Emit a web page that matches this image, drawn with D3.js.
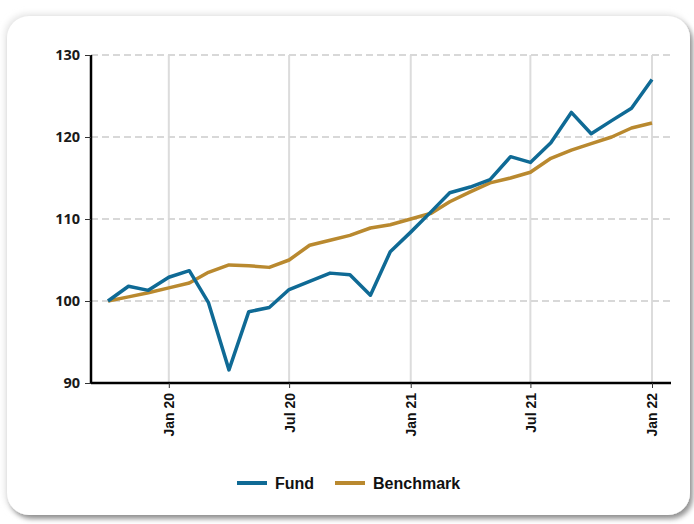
<!DOCTYPE html>
<html>
<head>
<meta charset="utf-8">
<script src="https://cdn.jsdelivr.net/npm/d3@7"></script>
<style>
  html, body { margin: 0; padding: 0; background: #fff; }
  #chart { width: 694px; height: 524px; }
  text { font-family: "Liberation Sans", Arial, sans-serif; }
</style>
</head>
<body>
<div id="chart"></div>
<script>
// monthly points, Oct 2019 - Jan 2022
const months = ['2019-10','2019-11','2019-12','2020-01','2020-02','2020-03','2020-04','2020-05','2020-06','2020-07',
  '2020-08','2020-09','2020-10','2020-11','2020-12','2021-01','2021-02','2021-03','2021-04','2021-05',
  '2021-06','2021-07','2021-08','2021-09','2021-10','2021-11','2021-12','2022-01'];
const fund = [100, 101.8, 101.3, 102.9, 103.7, 99.8, 91.6, 98.7, 99.2, 101.4,
  102.4, 103.4, 103.2, 100.7, 106.0, 108.4, 110.9, 113.2, 113.9, 114.8,
  117.6, 116.9, 119.3, 123.0, 120.4, 122.0, 123.5, 127.0];
const benchmark = [100, 100.5, 101.0, 101.6, 102.2, 103.5, 104.4, 104.3, 104.1, 105.0,
  106.8, 107.4, 108.0, 108.9, 109.3, 110.0, 110.7, 112.1, 113.3, 114.4,
  115.0, 115.7, 117.4, 118.4, 119.2, 120.0, 121.1, 121.7];
const yTicks = [90, 100, 110, 120, 130];
const xTicks = ['2020-01','2020-07','2021-01','2021-07','2022-01'];
const seriesNames = ['Fund', 'Benchmark'];

const COLOR_FUND = '#0f6a95', COLOR_BENCH = '#b9892f';

const parse = d3.timeParse('%Y-%m');
const fmt = d3.timeFormat('%b %y');

let W = 694, H = 524;
let margin = {top: 55, right: 23, bottom: 141, left: 91},
    width = 671 - margin.left,
    height = 383 - margin.top;

let root = d3.select('#chart').append('svg')
    .attr('width', W).attr('height', H);

// tarjeta con sombra
let defs = root.append('defs');
let f = defs.append('filter').attr('id', 'sh')
    .attr('x', '-5%').attr('y', '-5%').attr('width', '112%').attr('height', '115%');
f.append('feDropShadow').attr('dx', 3).attr('dy', 4).attr('stdDeviation', 2.5)
    .attr('flood-color', '#000').attr('flood-opacity', 0.4);
let f2 = defs.append('filter').attr('id', 'glow')
    .attr('x', '-5%').attr('y', '-5%').attr('width', '110%').attr('height', '110%');
f2.append('feGaussianBlur').attr('stdDeviation', 3);

root.append('rect').attr('x', 5).attr('y', 14).attr('width', 684).attr('height', 501)
    .attr('rx', 22).attr('fill', '#e4e4e4').attr('filter', 'url(#glow)');
root.append('rect').attr('x', 7).attr('y', 16).attr('width', 683).attr('height', 499)
    .attr('rx', 22).attr('fill', '#fff').attr('filter', 'url(#sh)');

let svg = root.append('g')
    .attr('transform', 'translate(' + margin.left + ',' + margin.top + ')');

let x = d3.scaleTime()
    .domain([parse('2019-10'), parse('2022-01')])
    .range([17, 561]);

let y = d3.scaleLinear()
    .domain([90, 130])
    .range([height, 0]);

// rejilla
svg.append('g').selectAll('line.v')
    .data(xTicks).enter().append('line')
    .attr('x1', d => x(parse(d))).attr('x2', d => x(parse(d)))
    .attr('y1', 0).attr('y2', height)
    .attr('stroke', '#dcdcdc').attr('stroke-width', 2);

svg.append('g').selectAll('line.h')
    .data(yTicks.filter(d => d > 90)).enter().append('line')
    .attr('x1', 0).attr('x2', width)
    .attr('y1', d => y(d)).attr('y2', d => y(d))
    .attr('stroke', '#d8d8d8').attr('stroke-width', 2)
    .attr('stroke-dasharray', '7,4');

// ejes
let yAxis = svg.append('g')
    .call(d3.axisLeft(y).tickValues(yTicks).tickSize(6).tickPadding(5));
yAxis.select('.domain').attr('stroke', '#000').attr('stroke-width', 2.5).attr('d', 'M0,' + (height + 1) + 'V0');
yAxis.selectAll('.tick line').attr('stroke', '#333').attr('stroke-width', 1);
yAxis.selectAll('.tick text')
    .style('font-family', '"Open Sans", sans-serif')
    .style('font-size', '14.5px').style('font-weight', 700).attr('fill', '#1a1a1a');

let xAxis = svg.append('g')
    .attr('transform', 'translate(0,' + height + ')')
    .call(d3.axisBottom(x).tickValues(xTicks.map(parse)).tickFormat(fmt).tickSize(5).tickPadding(5));
xAxis.select('.domain').attr('stroke', '#000').attr('stroke-width', 2.5).attr('d', 'M0,0H' + width);
xAxis.selectAll('.tick line').attr('stroke', '#333').attr('stroke-width', 1);
xAxis.selectAll('.tick text')
    .style('font-size', '14px').style('font-weight', 700).attr('fill', '#111')
    .attr('transform', 'rotate(-90)')
    .attr('text-anchor', 'end')
    .attr('dy', '0.35em')
    .attr('x', -10).attr('y', 0);

// líneas
let line = d3.line()
    .x((d, i) => x(parse(months[i])))
    .y(d => y(d));

svg.append('path').datum(benchmark)
    .attr('fill', 'none').attr('stroke', COLOR_BENCH).attr('stroke-width', 3.5)
    .attr('stroke-linejoin', 'round').attr('d', line);
svg.append('path').datum(fund)
    .attr('fill', 'none').attr('stroke', COLOR_FUND).attr('stroke-width', 3.5)
    .attr('stroke-linejoin', 'round').attr('d', line);

// leyenda
let legend = root.append('g').attr('transform', 'translate(237,483)');
let lx = [0, 98];
[COLOR_FUND, COLOR_BENCH].forEach(function(c, i) {
    let g = legend.append('g').attr('transform', 'translate(' + lx[i] + ',0)');
    g.append('line').attr('x1', 0).attr('x2', 30).attr('y1', 0).attr('y2', 0)
        .attr('stroke', c).attr('stroke-width', 4);
    g.append('text').attr('x', 38).attr('y', 0).attr('dy', '0.35em')
        .style('font-size', '16px').style('font-weight', 700).attr('fill', '#111')
        .text(seriesNames[i]);
});
</script>
</body>
</html>
